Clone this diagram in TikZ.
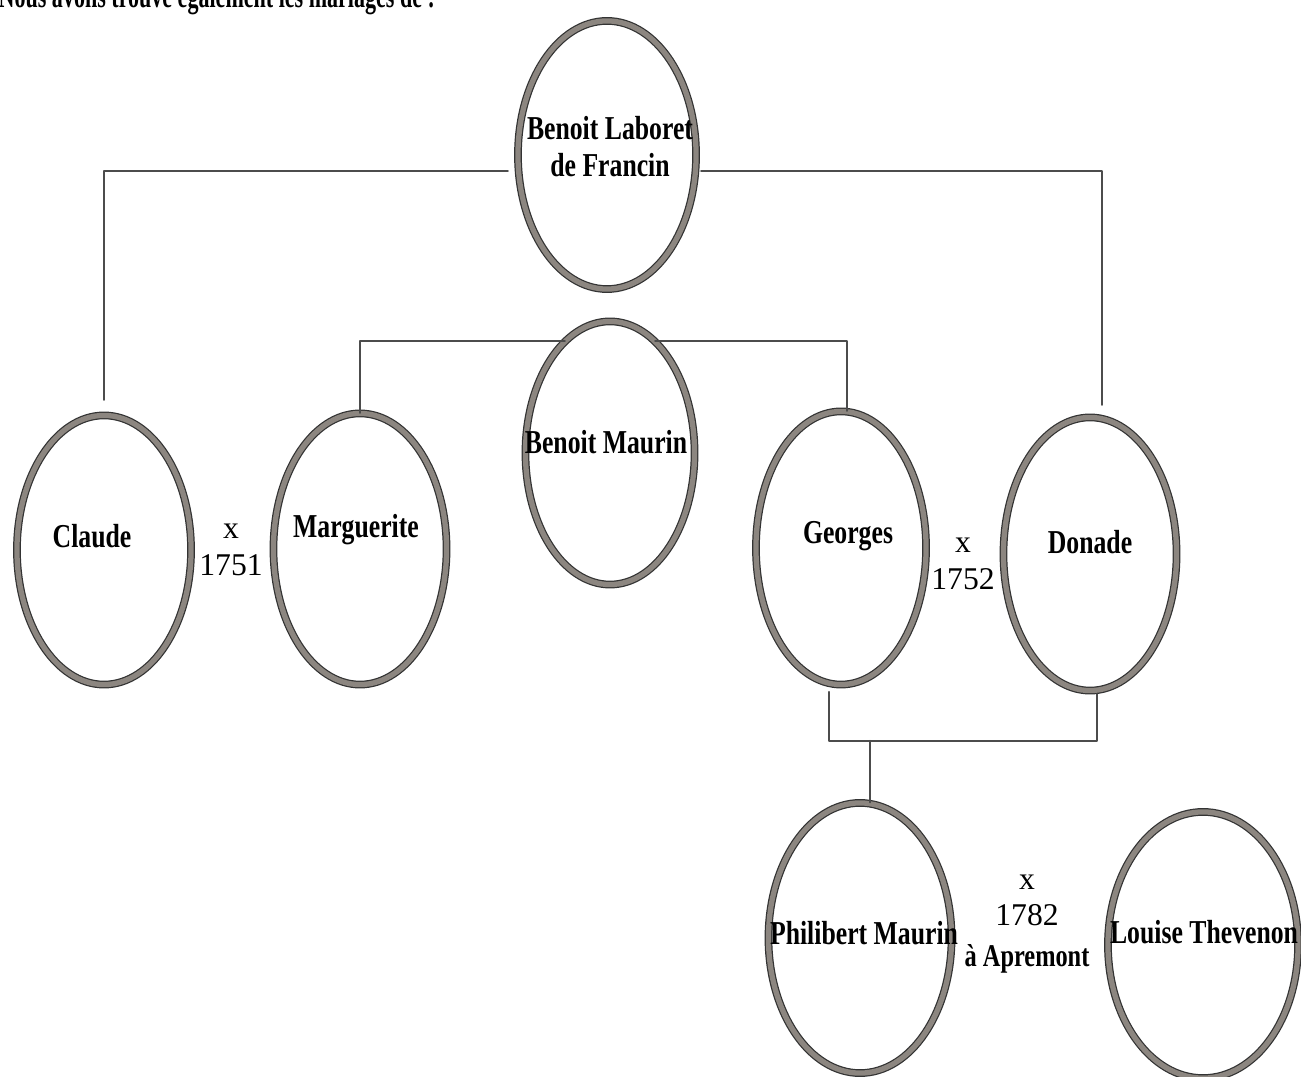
\documentclass[tikz,border=0pt]{standalone}
\usepackage{fontspec}
\setmainfont{Liberation Serif}
\usepackage{graphicx}
\usetikzlibrary{shapes.geometric}

\definecolor{ring}{RGB}{140,134,128}
\newcommand{\squash}[1]{\scalebox{0.77}[1]{#1}}

\begin{document}
\begin{tikzpicture}[
    x=0.01cm, y=-0.01cm,        % one unit = one pixel of the scan
    line cap=round,
    line join=round,
    person/.style={ellipse, draw=black!80, line width=0.35pt,
                   double=ring, double distance=1.5pt, inner sep=0pt},
    who/.style={font=\fontsize{9.5}{10.5}\selectfont\bfseries, inner sep=0pt, align=center},
    wed/.style={font=\fontsize{9}{10.4}\selectfont, inner sep=0pt, align=center},
    link/.style={draw=black!70, line width=0.6pt}
]
\useasboundingbox (0,0) rectangle (1301,1077);

%-----------------------
% 0) HEADING (cut by the page edge)
%-----------------------
\node[anchor=base west, inner sep=0pt, font=\fontsize{9.5}{10.5}\selectfont\bfseries]
  (intro) at (-2,8) {\scalebox{0.66}[1]{Nous avons trouvé également les mariages de :}};

%-----------------------
% 1) THE PEOPLE
%-----------------------
\node[person, minimum width=1.78cm, minimum height=2.68cm] (laboret) at (607,155) {};
\node[person, minimum width=1.74cm, minimum height=2.69cm] (claude) at (104,550) {};
\node[person, minimum width=1.73cm, minimum height=2.71cm] (marguerite) at (360,549) {};
\node[person, minimum width=1.69cm, minimum height=2.63cm] (bmaurin) at (610,453) {};
\node[person, minimum width=1.70cm, minimum height=2.73cm] (georges) at (841,548) {};
\node[person, minimum width=1.73cm, minimum height=2.73cm] (donade) at (1090,554) {};
\node[person, minimum width=1.83cm, minimum height=2.70cm] (philibert) at (860,938) {};
\node[person, minimum width=1.90cm, minimum height=2.66cm] (louise) at (1203,945) {};

% names, a little above the centres as in the scan
\node[who] (laboretT) at (610,147) {\squash{Benoit Laboret}\\\squash{de Francin}};
\node[who] (claudeT) at (92,536) {\squash{Claude}};
\node[who] (margueriteT) at (356,530) {\squash{Marguerite}};
\node[who] (bmaurinT) at (606,442) {\squash{Benoit Maurin}};
\node[who] (georgesT) at (848,536) {\squash{Georges}};
\node[who] (donadeT) at (1090,542) {\squash{Donade}};
\node[who] (philibertT) at (864,933) {\squash{Philibert Maurin}};
\node[who] (louiseT) at (1204,932) {\squash{Louise Thevenon}};

%-----------------------
% 2) MARRIAGES
%-----------------------
\node[wed] (wed1751) at (231,550) {x\\1751};
\node[wed] (wed1752) at (963,564) {x\\1752};
\node[wed] (wed1782) at (1027,924) {x\\1782\\[1.2pt]{\bfseries\squash{à Apremont}}};

%-----------------------
% 3) FAMILY LINES
%-----------------------
\draw[link, shorten <=0.1cm, shorten >=0.15cm] (laboret.190) -| (claude.north);
\draw[link, shorten <=0.05cm, shorten >=0.12cm] (laboret.350) -| ([xshift=0.12cm]donade.north);

\draw[link] (bmaurin.112) -| (marguerite.north);
\draw[link] (bmaurin.68) -| ([xshift=0.06cm]georges.north);

\coordinate (couple) at (870,741);
\draw[link, shorten <=0.08cm, shorten >=0.03cm] (georges.265) |- (couple) -| ([xshift=0.07cm]donade.south);
\draw[link] (couple) -- (couple |- philibert.north);

\end{tikzpicture}
\end{document}
